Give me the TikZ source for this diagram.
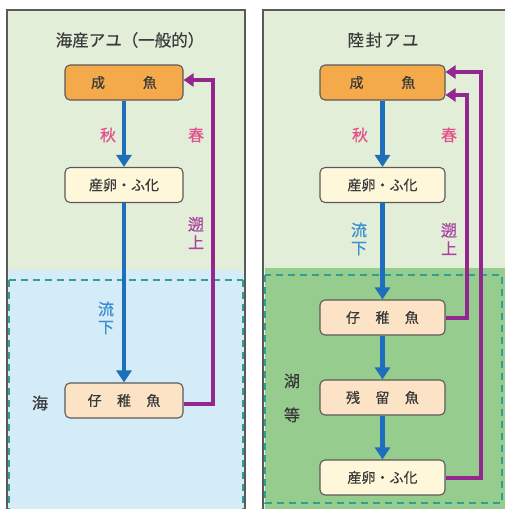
\documentclass[tikz,border=0pt]{standalone}
\usepackage{fontspec}
\setmainfont{Noto Sans CJK JP}
\usetikzlibrary{arrows.meta}
\definecolor{bgg}{HTML}{E3EED9}
\definecolor{ltblue}{HTML}{D3ECF7}
\definecolor{midg}{HTML}{97CC8F}
\definecolor{teal}{HTML}{2E9E96}
\definecolor{orng}{HTML}{F4A94A}
\definecolor{cream}{HTML}{FEF7DA}
\definecolor{peach}{HTML}{FCE3C6}
\definecolor{bluear}{HTML}{1E6EBC}
\definecolor{pinkt}{HTML}{E2508C}
\definecolor{purp}{HTML}{93268F}
\definecolor{bluet}{HTML}{3A8ED0}
\definecolor{purpt}{HTML}{A8439F}
\definecolor{frm}{HTML}{5A5A5A}
\definecolor{txt}{HTML}{3A3A3A}
\tikzset{
  panel/.style={draw=frm, line width=1.5pt},
  zone/.style={draw=teal, line width=1.6pt, dash pattern=on 7pt off 5pt},
  box/.style={draw=frm, line width=1.1pt, rounded corners=5pt, text=txt, font=\fontsize{14}{16}\selectfont\addfontfeature{FakeBold=0.6}, inner sep=0pt, anchor=center},
  lbox/.style={box, minimum width=118pt, minimum height=35pt},
  rbox/.style={box, minimum width=125pt, minimum height=35pt},
  down/.style={draw=bluear, line width=4.5pt, -{Triangle[width=15pt,length=12pt]}},
  up/.style={draw=purp, line width=4pt, -{Triangle[width=13pt,length=10pt]}},
  lab/.style={font=\fontsize{16}{18}\selectfont\addfontfeature{FakeBold=0.6}, inner sep=0pt, align=center},
  title/.style={font=\fontsize{16.5}{19}\selectfont\addfontfeature{FakeBold=0.4}, text=txt, inner sep=0pt}
}
\begin{document}
\begin{tikzpicture}[x=1pt,y=-1pt]
\useasboundingbox (0,0) rectangle (504,509);
% left panel
\fill[bgg] (7,10) rectangle (245,515);
\fill[ltblue] (9,270) rectangle (243,515);
\draw[zone] (9,280) -- (243,280);
\draw[zone] (9,280) -- (9,515);
\draw[zone] (243,280) -- (243,515);
\draw[panel] (7,515) -- (7,10) -- (245,10) -- (245,515);
% right panel
\fill[bgg] (263,10) rectangle (510,515);
\fill[midg] (265,268) rectangle (510,515);
\draw[zone] (265,275) rectangle (502,503);
\draw[panel] (263,515) -- (263,10) -- (510,10);
% titles
\node[title] (t1) at (130,40) {海産アユ（一般的）};
\node[title] (t2) at (383,40) {陸\hspace{0.1em}封\hspace{0.1em}ア\hspace{0.1em}ユ};
% left nodes
\node[lbox, fill=orng] (L1) at (124,82.5) {成\hspace{2.7em}魚};
\node[lbox, fill=cream] (L2) at (124,185) {産卵・ふ化};
\node[lbox, fill=peach] (L3) at (124,400.5) {仔\hspace{1.1em}稚\hspace{1.1em}魚};
\node[lab, text=txt] (sea) at (40,403) {海};
\node[lab, text=pinkt] (aki1) at (108,135) {秋};
\node[lab, text=pinkt] (haru1) at (196,135) {春};
\node[lab, text=purpt] (soj1) at (196,233) {遡\\上};
\node[lab, text=bluet] (ryu1) at (106,318) {流\\下};
\draw[down] (L1) -- (L2);
\draw[down] (L2) -- (L3);
\coordinate (lc1) at (213,404);
\coordinate (lc2) at (213,80);
\draw[up] (L3.east |- lc1) -- (lc1) -- (lc2) -- (L1.east |- lc2);
% right nodes
\node[rbox, fill=orng] (R1) at (382.5,82.5) {成\hspace{2.7em}魚};
\node[rbox, fill=cream] (R2) at (382.5,185) {産卵・ふ化};
\node[rbox, fill=peach] (R3) at (382.5,317.5) {仔\hspace{1.1em}稚\hspace{1.1em}魚};
\node[rbox, fill=peach] (R4) at (382.5,397.5) {残\hspace{1.1em}留\hspace{1.1em}魚};
\node[rbox, fill=cream] (R5) at (382.5,477.5) {産卵・ふ化};
\node[lab, text=txt] (lake) at (292,398) {湖\\[16pt]等};
\node[lab, text=pinkt] (aki2) at (360,135) {秋};
\node[lab, text=pinkt] (haru2) at (449,135) {春};
\node[lab, text=bluet] (ryu2) at (359,239) {流\\下};
\node[lab, text=purpt] (soj2) at (449,239) {遡\\上};
\draw[down] (R1) -- (R2);
\draw[down] (R2) -- (R3);
\draw[down] (R3) -- (R4);
\draw[down] (R4) -- (R5);
\coordinate (ra1) at (467,317.5);
\coordinate (ra2) at (467,95);
\coordinate (rb1) at (481,478);
\coordinate (rb2) at (481,72);
\draw[up] (R3.east |- ra1) -- (ra1) -- (ra2) -- (R1.east |- ra2);
\draw[up] (R5.east |- rb1) -- (rb1) -- (rb2) -- (R1.east |- rb2);
\end{tikzpicture}
\end{document}
